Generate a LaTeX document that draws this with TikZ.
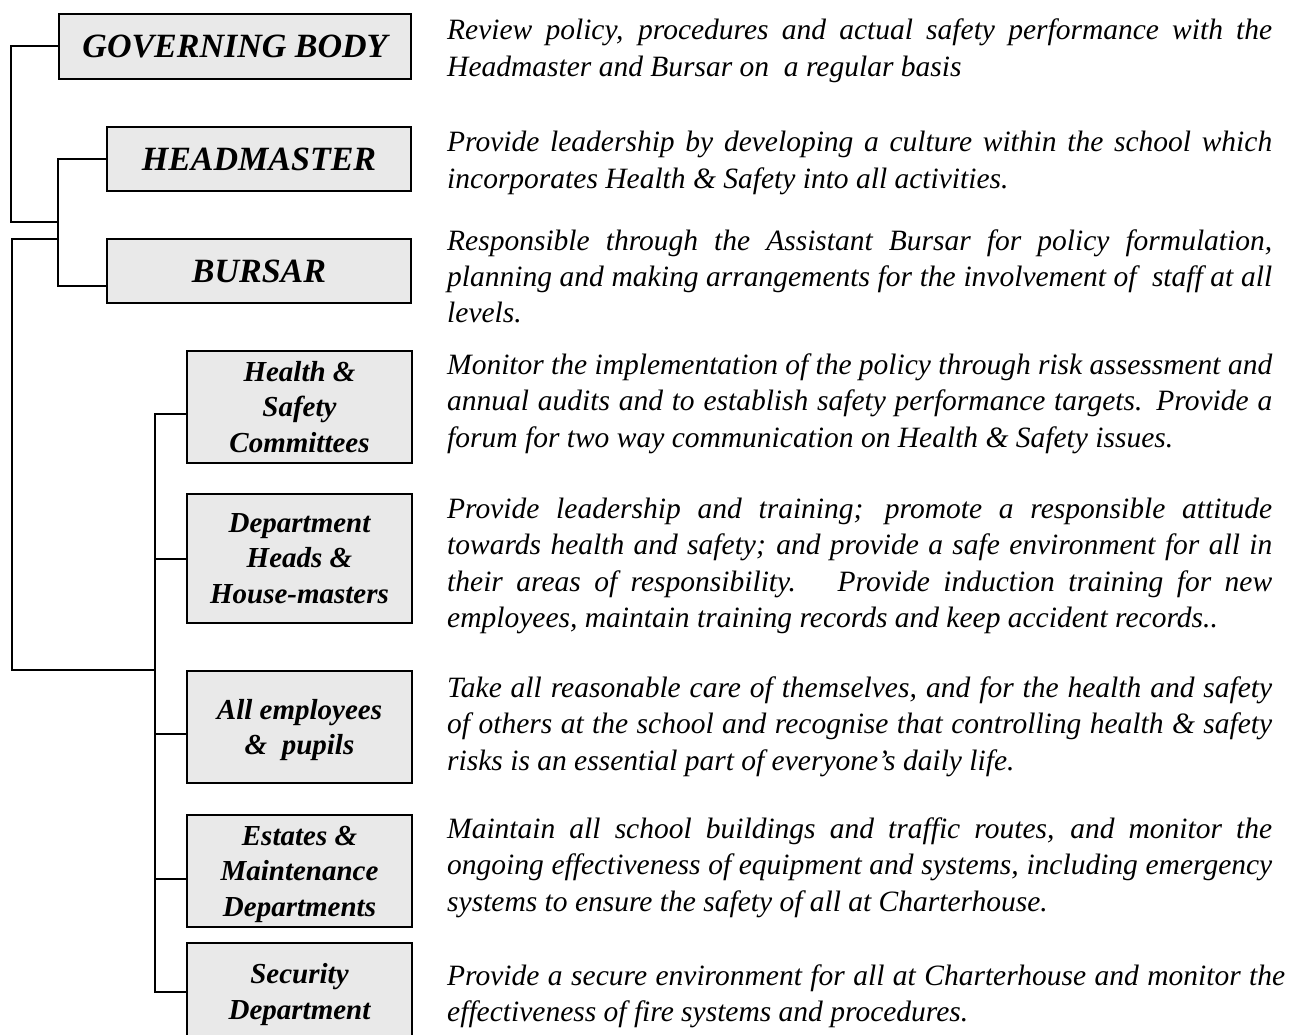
\documentclass[tikz,border=0pt]{standalone}
\usepackage{fontspec}
\setmainfont{Liberation Serif}
\definecolor{boxfill}{HTML}{E9E9E9}
\tolerance=10000
\hbadness=10000
\hfuzz=100pt
\tikzset{
  bigbox/.style={draw, line width=2pt, fill=boxfill, inner sep=0pt,
    font=\fontsize{34}{40}\selectfont\bfseries\itshape},
  smallbox/.style={draw, line width=2pt, fill=boxfill, inner sep=0pt, align=center,
    minimum width=225pt, font=\fontsize{29}{35.5}\selectfont\bfseries\itshape},
  desc/.style={anchor=base west, inner sep=0pt, text width=825pt, align=justify,
    font=\fontsize{29.5}{36.5}\selectfont\itshape},
  conn/.style={line width=2pt}
}
\newcommand{\nodepth}[1]{\raisebox{0pt}[\height][0pt]{#1}}
\begin{document}
\begin{tikzpicture}[x=1pt,y=-1pt]
\useasboundingbox (0,0) rectangle (1290,1035);
\clip (0,0) rectangle (1290,1035);

% boxes
\node[bigbox, minimum width=352pt, minimum height=65pt] (gb) at (235,46.5) {GOVERNING BODY};
\node[bigbox, minimum width=304pt, minimum height=64pt] (hm) at (259,159) {HEADMASTER};
\node[bigbox, minimum width=304pt, minimum height=64pt] (bu) at (259,271) {BURSAR};

\node[smallbox, minimum height=112pt] (hs) at (299.5,407) {Health \&\\Safety\\Committees};
\node[smallbox, minimum height=129pt] (dh) at (299.5,558.5) {Department\\Heads \&\\House-masters};
\node[smallbox, minimum height=112pt] (ae) at (299.5,727) {All employees\\\nodepth{\& \ pupils}};
\node[smallbox, minimum height=112pt] (em) at (299.5,871) {Estates \&\\Maintenance\\\nodepth{Departments}};
\node[smallbox, minimum height=97pt] (se) at (299.5,991.5) {Security\\\nodepth{Department}};

% connector end points
\coordinate (buIn) at (107,286);
\coordinate (hsIn) at (187,414);
\coordinate (aeIn) at (187,734);
\coordinate (emIn) at (187,879);
\coordinate (spineA) at (59,222);
\coordinate (spineB) at (59,239);
\coordinate (spineC) at (155,670);
\coordinate (dhJ) at (155,558.5);
\coordinate (aeJ) at (155,734);
\coordinate (emJ) at (155,879);

% connectors
\draw[conn] (gb.west) -- ++(-47,0) |- (spineA);
\draw[conn] (hm.west) -- ++(-48,0) |- (buIn);
\draw[conn] (spineB) -- ++(-47,0) |- (spineC);
\draw[conn] (hsIn) -- ++(-32,0) |- (se.west);
\draw[conn] (dhJ) -- (dh.west);
\draw[conn] (aeJ) -- (aeIn);
\draw[conn] (emJ) -- (emIn);

% descriptions
\node[desc] (d1) at (447,40) {Review policy, procedures and actual safety performance with the\linebreak Headmaster and Bursar on \ a regular basis};
\node[desc] (d2) at (447,152) {Provide leadership by developing a culture within the school which\linebreak incorporates Health \& Safety into all activities.};
\node[desc] (d3) at (447,250) {Responsible through the Assistant Bursar for policy formulation,\linebreak planning and making arrangements for the involvement of \ staff at all\linebreak levels.};
\node[desc] (d4) at (447,374) {Monitor the implementation of the policy through risk assessment and\linebreak annual audits and to establish safety performance targets. Provide a\linebreak forum for two way communication on Health \& Safety issues.};
\node[desc] (d5) at (447,518) {Provide leadership and training; promote a responsible attitude\linebreak towards health and safety; and provide a safe environment for all in\linebreak their areas of responsibility. \ Provide induction training for new\linebreak employees, maintain training records and keep accident records..};
\node[desc] (d6) at (447,697) {Take all reasonable care of themselves, and for the health and safety\linebreak of others at the school and recognise that controlling health \& safety\linebreak risks is an essential part of everyone’s daily life.};
\node[desc] (d7) at (447,838) {Maintain all school buildings and traffic routes, and monitor the\linebreak ongoing effectiveness of equipment and systems, including emergency\linebreak systems to ensure the safety of all at Charterhouse.};
\node[desc, text width=838pt] (d8) at (447,985) {Provide a secure environment for all at Charterhouse and monitor the\linebreak effectiveness of fire systems and procedures.};
\end{tikzpicture}
\end{document}
